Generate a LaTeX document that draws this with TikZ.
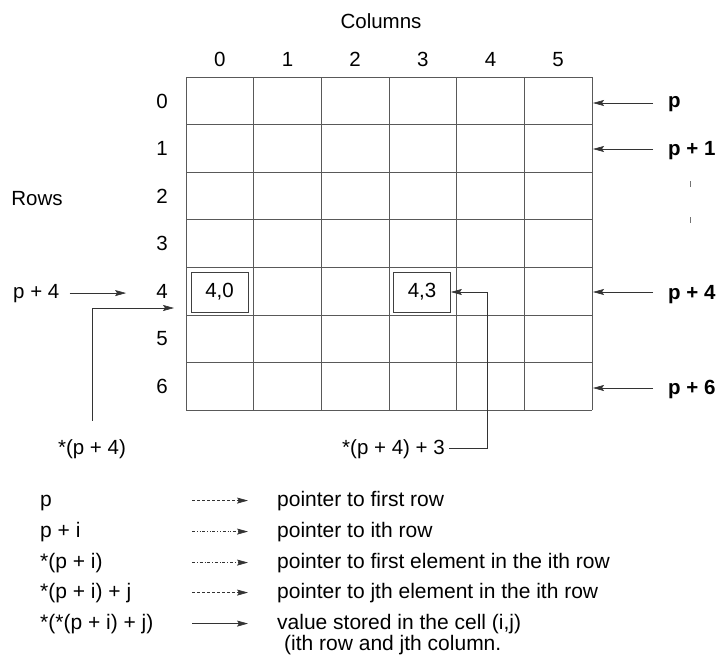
\documentclass[tikz,border=0pt]{standalone}
\usepackage{fontspec}
\setmainfont{Liberation Sans}
\usetikzlibrary{positioning,arrows.meta}

\begin{document}
\begin{tikzpicture}[
  x=1pt, y=-1pt,
  font=\fontsize{20.5}{24}\selectfont,
  txt/.style={inner sep=0pt, anchor=base},
  txtw/.style={inner sep=0pt, anchor=base west},
  leg/.style={txtw, font=\fontsize{21}{24}\selectfont},
  ptr/.style={txtw, font=\fontsize{20.5}{24}\selectfont\bfseries},
  gridline/.style={draw=black!65, line width=0.7pt},
  cellbox/.style={draw=black!75, line width=0.7pt, inner sep=0pt,
                  minimum width=57pt, minimum height=40pt},
  arr/.style={-{Stealth[length=11pt, width=6pt, inset=2pt]}, draw=black!80, line width=0.6pt}]

\useasboundingbox (0,0) rectangle (718,659);

% the 7 x 6 array
\foreach \c in {0,...,6}
  \draw[gridline] (186+67.67*\c,77) -- (186+67.67*\c,410);
\foreach \r in {0,...,7}
  \draw[gridline] (186,77+47.57*\r) -- (592,77+47.57*\r);

\node[txt] (colT) at (381,28) {Columns};
\node[txt] (rowT) at (37,205) {Rows};
\foreach \c in {0,...,5}
  \node[txt] (col\c) at (219.8+67.67*\c,66) {\c};
\foreach \r in {0,...,6}
  \node[txt] (row\r) at (162,108+47.57*\r) {\r};

\node[cellbox] (c40) at (219.5,292) {4,0};
\node[cellbox] (c43) at (422,292) {4,3};

% row pointers on the right
\node[ptr] (pR0) at (668,107) {p};
\node[ptr] (pR1) at (668,155) {p + 1};
\node[ptr] (pR4) at (668,299) {p + 4};
\node[ptr] (pR6) at (668,394) {p + 6};
\foreach \r/\y in {0/103, 1/149, 4/292, 6/388}
  \coordinate (edge\r) at (593,\y);
\foreach \r in {0,1,4,6}
  \draw[arr, shorten <=15pt] (pR\r.west |- edge\r) -- (edge\r);
\draw[black!55, line width=0.6pt] (690,181) -- (690,187) (690,217) -- (690,223);

% pointers on the left and below
\node[txtw] (pL4) at (13,298) {p + 4};
\draw[arr, shorten <=10pt, shorten >=30pt] (pL4.east) -- (pL4.east -| row4.west);

\node[txt] (deref4) at (92,454) {*(p + 4)};
\coordinate (row4in) at (174,308);
\draw[arr] ([yshift=18pt]deref4.north) |- (row4in);

\node[txtw] (deref43) at (342,454) {*(p + 4) + 3};
\draw[arr, shorten <=4pt] (deref43.east) -| ([xshift=36pt]c43.east) -- (c43.east);

% legend
\node[leg] (k1) at (40,506) {p};
\node[leg] (k2) at (40,537) {p + i};
\node[leg] (k3) at (40,568) {*(p + i)};
\node[leg] (k4) at (40,598) {*(p + i) + j};
\node[leg] (k5) at (40,629) {*(*(p + i) + j)};
\node[leg] (t1) at (277,506) {pointer to first row};
\node[leg] (t2) at (277,537) {pointer to ith row};
\node[leg] (t3) at (277,568) {pointer to first element in the ith row};
\node[leg] (t4) at (277,598) {pointer to jth element in the ith row};
\node[leg] (t5) at (277,629) {value stored in the cell (i,j)};
\node[leg] (t6) at (284,650) {(ith row and jth column.};
\foreach \i/\d in {1/densely dashed, 2/dash dot dot, 3/dash dot, 4/densely dashed, 5/solid}
  \draw[arr, \d] ([xshift=-85pt]t\i.west) -- ([xshift=-29pt]t\i.west);

\end{tikzpicture}
\end{document}
